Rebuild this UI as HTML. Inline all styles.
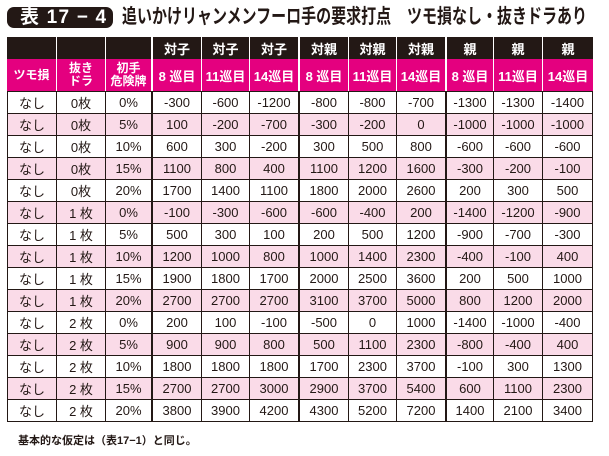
<!DOCTYPE html>
<html><head><meta charset="utf-8">
<style>
*{margin:0;padding:0;box-sizing:border-box}
html,body{width:609px;height:456px;background:#fff;overflow:hidden}
body{position:relative;font-family:"Liberation Sans","Noto Sans CJK JP",sans-serif;color:#231815}
.tbox{position:absolute;left:7px;top:7px;width:106px;height:21px;border-radius:7px;background:#231815;color:#fff;font-weight:bold;font-size:19px;line-height:21px;padding-left:13px;letter-spacing:1.2px;white-space:nowrap}
.ttl{position:absolute;top:7px;font-size:20px;line-height:20px;font-weight:bold;white-space:nowrap;transform:scaleX(0.75);transform-origin:0 0;color:#231815}
.g{position:absolute;left:7px;width:586px;display:grid;grid-template-columns:50px 49px 47px 49px 48px 50px 49px 48px 50px 47px 49px 50px}
.g>div{display:flex;align-items:center;justify-content:center;text-align:center;white-space:nowrap}
.hb{top:37px;height:22px;background:#231815;color:#fff;font-weight:bold;font-size:13px;grid-template-rows:22px}
.hp{top:59px;height:32px;background:#e4007f;color:#fff;font-weight:bold;font-size:13px;grid-template-rows:32px}
.hb>div,.hp>div{border-right:1px solid #fff}
.hb>div:nth-child(3),.hb>div:nth-child(6),.hb>div:nth-child(9),
.hp>div:nth-child(3),.hp>div:nth-child(6),.hp>div:nth-child(9){border-right:2px solid #fff}
.hb>div:nth-child(12),.hp>div:nth-child(12){border-right:none}
.hp .s{font-size:12px;line-height:13px}
.d{top:91px;border-top:1px solid #231815;grid-template-rows:repeat(15,22px);font-size:13px}
.d>div{border-right:1px solid #231815;border-bottom:1px solid #231815}
.d>div:nth-child(12n+1){border-left:1px solid #231815}
.d>div:nth-child(12n+3),.d>div:nth-child(12n+6),.d>div:nth-child(12n+9){border-right:2px solid #231815}
.st{position:absolute;left:8px;width:584px;height:22px;background:#fadbe8}
.fn{position:absolute;left:18px;top:434px;font-size:11px;line-height:14px;font-weight:bold;white-space:nowrap;color:#231815}
</style></head><body>
<div class="tbox">表 17 − 4</div>
<div class="ttl" style="left:122px">追いかけリャンメンフーロ手の要求打点</div>
<div class="ttl" style="left:407px">ツモ損なし・抜きドラあり</div>

<div class="g hb"><div></div><div></div><div></div><div>対子</div><div>対子</div><div>対子</div><div>対親</div><div>対親</div><div>対親</div><div>親</div><div>親</div><div>親</div></div>
<div class="g hp"><div class="s">ツモ損</div><div class="s">抜き<br>ドラ</div><div class="s">初手<br>危険牌</div><div>8 巡目</div><div>11巡目</div><div>14巡目</div><div>8 巡目</div><div>11巡目</div><div>14巡目</div><div>8 巡目</div><div>11巡目</div><div>14巡目</div></div>

<div class="st" style="top:114px"></div>
<div class="st" style="top:158px"></div>
<div class="st" style="top:202px"></div>
<div class="st" style="top:246px"></div>
<div class="st" style="top:290px"></div>
<div class="st" style="top:334px"></div>
<div class="st" style="top:378px"></div>

<div class="g d">
<div>なし</div><div>0枚</div><div>0%</div><div>-300</div><div>-600</div><div>-1200</div><div>-800</div><div>-800</div><div>-700</div><div>-1300</div><div>-1300</div><div>-1400</div>
<div>なし</div><div>0枚</div><div>5%</div><div>100</div><div>-200</div><div>-700</div><div>-300</div><div>-200</div><div>0</div><div>-1000</div><div>-1000</div><div>-1000</div>
<div>なし</div><div>0枚</div><div>10%</div><div>600</div><div>300</div><div>-200</div><div>300</div><div>500</div><div>800</div><div>-600</div><div>-600</div><div>-600</div>
<div>なし</div><div>0枚</div><div>15%</div><div>1100</div><div>800</div><div>400</div><div>1100</div><div>1200</div><div>1600</div><div>-300</div><div>-200</div><div>-100</div>
<div>なし</div><div>0枚</div><div>20%</div><div>1700</div><div>1400</div><div>1100</div><div>1800</div><div>2000</div><div>2600</div><div>200</div><div>300</div><div>500</div>
<div>なし</div><div>1 枚</div><div>0%</div><div>-100</div><div>-300</div><div>-600</div><div>-600</div><div>-400</div><div>200</div><div>-1400</div><div>-1200</div><div>-900</div>
<div>なし</div><div>1 枚</div><div>5%</div><div>500</div><div>300</div><div>100</div><div>200</div><div>500</div><div>1200</div><div>-900</div><div>-700</div><div>-300</div>
<div>なし</div><div>1 枚</div><div>10%</div><div>1200</div><div>1000</div><div>800</div><div>1000</div><div>1400</div><div>2300</div><div>-400</div><div>-100</div><div>400</div>
<div>なし</div><div>1 枚</div><div>15%</div><div>1900</div><div>1800</div><div>1700</div><div>2000</div><div>2500</div><div>3600</div><div>200</div><div>500</div><div>1000</div>
<div>なし</div><div>1 枚</div><div>20%</div><div>2700</div><div>2700</div><div>2700</div><div>3100</div><div>3700</div><div>5000</div><div>800</div><div>1200</div><div>2000</div>
<div>なし</div><div>2 枚</div><div>0%</div><div>200</div><div>100</div><div>-100</div><div>-500</div><div>0</div><div>1000</div><div>-1400</div><div>-1000</div><div>-400</div>
<div>なし</div><div>2 枚</div><div>5%</div><div>900</div><div>900</div><div>800</div><div>500</div><div>1100</div><div>2300</div><div>-800</div><div>-400</div><div>400</div>
<div>なし</div><div>2 枚</div><div>10%</div><div>1800</div><div>1800</div><div>1800</div><div>1700</div><div>2300</div><div>3700</div><div>-100</div><div>300</div><div>1300</div>
<div>なし</div><div>2 枚</div><div>15%</div><div>2700</div><div>2700</div><div>3000</div><div>2900</div><div>3700</div><div>5400</div><div>600</div><div>1100</div><div>2300</div>
<div>なし</div><div>2 枚</div><div>20%</div><div>3800</div><div>3900</div><div>4200</div><div>4300</div><div>5200</div><div>7200</div><div>1400</div><div>2100</div><div>3400</div>
</div>

<div class="fn">基本的な仮定は（表17−1）と同じ。</div>
</body></html>
